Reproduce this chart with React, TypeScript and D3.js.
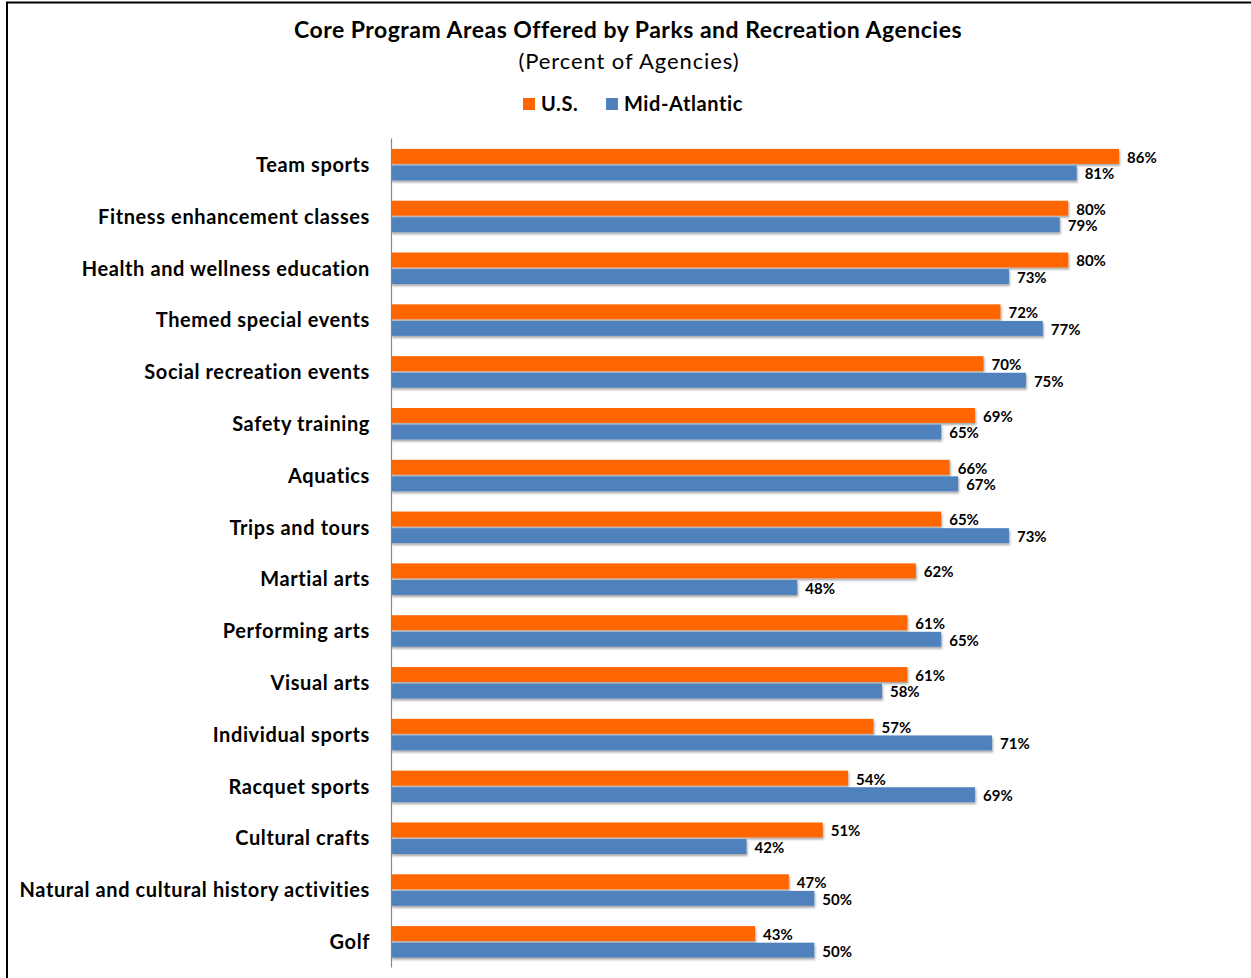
import React, { useEffect, useRef } from 'react';
import * as d3 from 'd3';

const categories = [
  'Team sports',
  'Fitness enhancement classes',
  'Health and wellness education',
  'Themed special events',
  'Social recreation events',
  'Safety training',
  'Aquatics',
  'Trips and tours',
  'Martial arts',
  'Performing arts',
  'Visual arts',
  'Individual sports',
  'Racquet sports',
  'Cultural crafts',
  'Natural and cultural history activities',
  'Golf',
];
const usValues = [86, 80, 80, 72, 70, 69, 66, 65, 62, 61, 61, 57, 54, 51, 47, 43];
const midAtlanticValues = [81, 79, 73, 77, 75, 65, 67, 73, 48, 65, 58, 71, 69, 42, 50, 50];
const seriesNames = ['U.S.', 'Mid-Atlantic'];
const seriesColors = ['#FF6600', '#4F81BD'];

const FONT = 'Lato, "Open Sans", sans-serif';

const App = () => {
  const svgRef = useRef(null);

  useEffect(() => {
    if (!svgRef.current) return;
    const svg = d3.select(svgRef.current);
    svg.selectAll('*').remove();

    const width = 1251;
    const height = 978;

    // frame (only left + top edges are visible)
    svg.append('path')
      .attr('d', `M7,${height} L7,2.5 L${width},2.5`)
      .attr('fill', 'none')
      .attr('stroke', '#000')
      .attr('stroke-width', 2);

    // drop shadow for bars
    const defs = svg.append('defs');
    const filter = defs.append('filter')
      .attr('id', 'barShadow')
      .attr('x', '-5%').attr('y', '-30%')
      .attr('width', '110%').attr('height', '180%');
    filter.append('feDropShadow')
      .attr('dx', 1).attr('dy', 2)
      .attr('stdDeviation', 0.8)
      .attr('flood-color', '#000')
      .attr('flood-opacity', 0.35);

    // Title
    svg.append('text')
      .attr('x', 628).attr('y', 38)
      .attr('text-anchor', 'middle')
      .style('font-family', FONT)
      .style('font-weight', 'bold')
      .style('font-size', '23px')
      .style('letter-spacing', '0.5px')
      .style('fill', '#000')
      .text('Core Program Areas Offered by Parks and Recreation Agencies');
    svg.append('text')
      .attr('x', 629).attr('y', 69)
      .attr('text-anchor', 'middle')
      .style('font-family', FONT)
      .style('font-size', '22px')
      .style('letter-spacing', '0.9px')
      .style('fill', '#000')
      .text('(Percent of Agencies)');

    // Legend
    const legendX = [523, 606];
    seriesNames.forEach((name, i) => {
      const lg = svg.append('g').attr('transform', `translate(${legendX[i]},98)`);
      lg.append('rect').attr('width', 12).attr('height', 12).attr('fill', seriesColors[i]);
      lg.append('text')
        .attr('x', 18).attr('y', 12.5)
        .style('font-family', FONT)
        .style('font-weight', 'bold')
        .style('font-size', '20px')
        .style('letter-spacing', '0.6px')
        .style('fill', '#000')
        .text(name);
    });

    // Scales
    const x = d3.scaleLinear().domain([0, 100]).range([391, 1237.5]);
    const y = d3.scaleBand().domain(categories).range([138, 967]).paddingInner(0).paddingOuter(0);
    const series = [usValues, midAtlanticValues];
    const inner = d3.scaleBand()
      .domain(seriesNames)
      .range([y.bandwidth() / 2 - 15, y.bandwidth() / 2 + 16.5])
      .paddingInner(0.1);

    // Bars
    categories.forEach((cat, ci) => {
      const g = svg.append('g').attr('transform', `translate(0,${y(cat)})`);
      series.forEach((vals, si) => {
        const by = inner(seriesNames[si]);
        g.append('rect')
          .attr('x', x(0))
          .attr('y', by)
          .attr('width', x(vals[ci]) - x(0))
          .attr('height', inner.bandwidth())
          .attr('fill', seriesColors[si])
          .attr('filter', 'url(#barShadow)');
        g.append('text')
          .attr('x', x(vals[ci]) + 8)
          .attr('y', by + inner.bandwidth() / 2 + 1)
          .attr('dy', '0.36em')
          .style('font-family', FONT)
          .style('font-weight', 'bold')
          .style('font-size', '15px')
          .style('fill', '#000')
          .text(`${vals[ci]}%`);
      });
    });

    // Category axis
    const yAxis = d3.axisLeft(y).tickSize(0).tickPadding(21);
    const ax = svg.append('g').attr('transform', `translate(${x(0)},0)`).call(yAxis);
    ax.select('.domain').attr('stroke', '#888').attr('stroke-width', 1.2);
    ax.selectAll('text')
      .attr('dy', '0.4em')
      .style('font-family', FONT)
      .style('font-weight', 'bold')
      .style('font-size', '20px')
      .style('letter-spacing', '0.6px')
      .style('fill', '#000');
  }, []);

  return (
    <svg
      ref={svgRef}
      width={1251}
      height={978}
      style={{ position: 'absolute', left: 0, top: 0, background: '#fff' }}
    />
  );
};

export default App;
